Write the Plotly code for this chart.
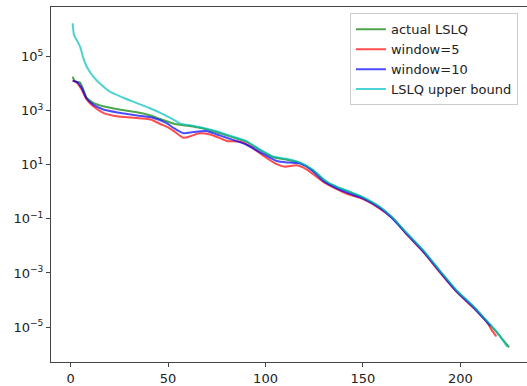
import plotly.graph_objects as go

# iteration numbers and error values
x_actual = [1.0, 2.2, 4.8, 6.5, 8.2, 11.6, 16.7, 25, 34, 41, 46, 53, 56, 62, 68, 74, 80, 86, 90, 97,
            104, 110, 117, 124, 131, 137, 142, 147, 152, 159, 165, 173, 181, 190, 198, 207, 214, 219, 225]
y_actual = [1.8e4, 1.2e4, 1.1e4, 6.0e3, 2.95e3, 1.95e3, 1.45e3, 1.1e3, 870, 660, 490, 330, 300, 263, 219,
            166, 123, 89, 71, 35.5, 19, 15.8, 12, 6.5, 2.4, 1.45, 1.05, 0.76, 0.51, 0.257, 0.11, 0.026,
            6.5e-3, 1.05e-3, 2.2e-4, 5.4e-5, 1.5e-5, 6.0e-6, 1.8e-6]

x_w5 = [1.0, 3.1, 5.6, 8.2, 11.6, 16.7, 23.6, 32, 41, 46, 50, 53, 57.8, 61, 66, 71.5, 76, 80, 87, 92,
        99, 105.7, 110, 116, 121, 130, 136, 142, 150, 159, 165.6, 173, 181, 190, 198, 207, 214, 216, 218.5]
y_w5 = [1.3e4, 1.1e4, 6.0e3, 2.6e3, 1.45e3, 830, 620, 550, 470, 320, 240, 174, 100, 110, 145, 132, 100,
        76, 71, 49, 21, 10.5, 8.5, 9.5, 6.8, 2.24, 1.32, 0.83, 0.54, 0.23, 0.1, 0.024, 5.9e-3, 9.5e-4,
        2.0e-4, 4.9e-5, 1.4e-5, 7.9e-6, 4.5e-6]

x_w10 = [1.0, 3.1, 5.6, 8.2, 11.6, 16.7, 25, 34, 42, 49, 53, 58, 63, 70, 75, 80, 90, 99, 105.7, 112,
         118, 124, 130, 136, 142, 150, 159, 165, 173, 181, 190, 198, 207, 214, 215.5]
y_w10 = [1.26e4, 1.15e4, 7.1e3, 2.8e3, 1.66e3, 1.1e3, 830, 660, 550, 355, 224, 145, 162, 174, 132, 100,
         56, 24.5, 13.8, 12, 11, 6.0, 2.4, 1.41, 0.91, 0.575, 0.245, 0.105, 0.025, 6.2e-3, 1.0e-3,
         2.1e-4, 5.1e-5, 1.45e-5, 1.12e-5]

x_upper = [1.0, 1.7, 3.1, 4.8, 6.5, 8.2, 11.6, 15, 20, 27, 34, 41, 46, 53, 56, 62, 68, 74, 80, 86, 90,
           97, 104, 110, 117, 124, 131, 137, 142, 147, 152, 159, 165, 173, 181, 190, 198, 207, 214, 219, 224]
y_upper = [1.7e6, 6.3e5, 4.1e5, 2.3e5, 8.7e4, 4.3e4, 1.8e4, 1.0e4, 5.1e3, 3.0e3, 1.9e3, 1.2e3, 830, 460,
           340, 280, 230, 180, 130, 95, 76, 37, 20, 17, 12.6, 6.8, 2.5, 1.5, 1.1, 0.79, 0.54, 0.27,
           0.115, 0.0275, 6.8e-3, 1.1e-3, 2.3e-4, 5.6e-5, 1.6e-5, 6.3e-6, 1.9e-6]

names = ["actual LSLQ", "window=5", "window=10", "LSLQ upper bound"]
colors = ["rgba(0,128,0,0.7)", "rgba(255,0,0,0.7)", "rgba(0,0,255,0.7)", "rgba(0,191,191,0.7)"]
series = [(x_actual, y_actual), (x_w5, y_w5), (x_w10, y_w10), (x_upper, y_upper)]

y_tickvals = [1e-5, 1e-3, 1e-1, 1e1, 1e3, 1e5]
y_ticktext = ["10<sup>−5</sup>", "10<sup>−3</sup>", "10<sup>−1</sup>", "10<sup>1</sup>", "10<sup>3</sup>", "10<sup>5</sup>"]
x_tickvals = [0, 50, 100, 150, 200]

fig = go.Figure()
for (xs, ys), name, col in zip(series, names, colors):
    fig.add_trace(go.Scatter(x=xs, y=ys, mode="lines", name=name,
                             line=dict(color=col, width=2, shape="spline", smoothing=0.6)))

fig.update_layout(
    width=527, height=386,
    margin=dict(l=51, r=0, t=7, b=22),
    paper_bgcolor="white", plot_bgcolor="white",
    font=dict(family="DejaVu Sans", size=13, color="#222"),
    showlegend=True,
    legend=dict(x=0.628, y=0.982, xanchor="left", yanchor="top",
                bgcolor="rgba(255,255,255,0.8)", bordercolor="#cccccc", borderwidth=1,
                font=dict(size=13, color="#222"), itemwidth=30, tracegroupgap=0),
)
fig.update_xaxes(range=[-10.1, 234.2], showgrid=False, zeroline=False,
                 showline=True, linecolor="#444", linewidth=1, mirror=True,
                 ticks="outside", ticklen=4, tickcolor="#444",
                 tickvals=x_tickvals, ticktext=[str(v) for v in x_tickvals])
fig.update_yaxes(type="log", range=[-6.29, 6.83], showgrid=False, zeroline=False,
                 showline=True, linecolor="#444", linewidth=1,
                 ticks="outside", ticklen=4, tickcolor="#444",
                 tickvals=y_tickvals, ticktext=y_ticktext)

fig.write_html("out.html")
